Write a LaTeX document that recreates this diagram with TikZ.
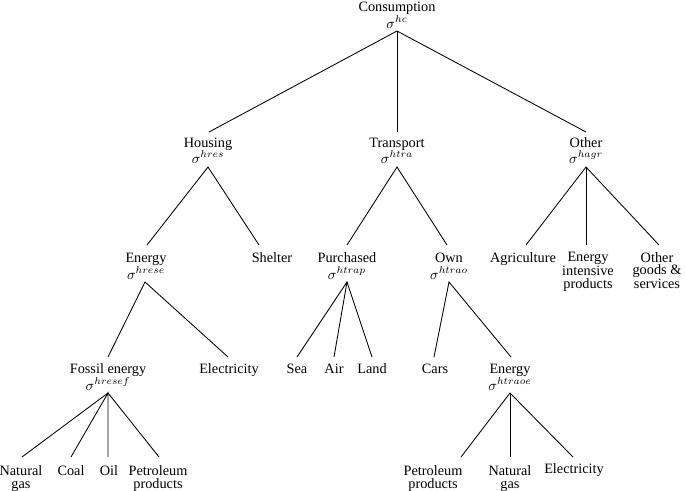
\documentclass[tikz,border=0pt]{standalone}
\usepackage{fontspec}
\setmainfont{Liberation Serif}
\begin{document}
\begin{tikzpicture}[x=0.7pt,y=-0.7pt,
  every node/.style={inner sep=0pt, outer sep=0pt},
  lbl/.style={anchor=base, font=\fontsize{10}{8.6}\selectfont},
  mlbl/.style={anchor=north, align=center, font=\fontsize{10}{8.6}\selectfont},
  sig/.style={anchor=base},
  br/.style={line width=0.6pt}]
\useasboundingbox (0,0) rectangle (685,490);

% Level 0
\node[lbl] (cons) at (397,11) {Consumption};
\node[sig] (scons) at (397,28) {$\sigma^{hc}$};
\coordinate (acons) at (397,31);

% Level 1
\coordinate (ehous) at (209,132);
\node[lbl] (hous) at (208,147) {Housing};
\node[sig] (shous) at (208,163) {$\sigma^{hres}$};
\coordinate (ahous) at (208,167);

\coordinate (etran) at (397,132);
\node[lbl] (tran) at (397,147) {Transport};
\node[sig] (stran) at (397,163) {$\sigma^{htra}$};
\coordinate (atran) at (397,167);

\coordinate (eoth) at (586,132);
\node[lbl] (oth) at (586,147) {Other};
\node[sig] (soth) at (586,163) {$\sigma^{hagr}$};
\coordinate (aoth) at (586,167);

\draw[br] (ehous) -- (acons) -- (eoth);
\draw[br] (acons) -- (etran);

% Level 2
\coordinate (eene) at (147,245);
\node[lbl] (ene) at (146,262) {Energy};
\node[sig] (sene) at (146,279) {$\sigma^{hrese}$};
\coordinate (aene) at (145,282);

\coordinate (eshe) at (259,245);
\node[lbl] (she) at (272,262) {Shelter};

\coordinate (epur) at (347,245);
\node[lbl] (pur) at (347,262) {Purchased};
\node[sig] (spur) at (347,279) {$\sigma^{htrap}$};
\coordinate (apur) at (347,282);

\coordinate (eown) at (447,245);
\node[lbl] (own) at (449,262) {Own};
\node[sig] (sown) at (449,279) {$\sigma^{htrao}$};
\coordinate (aown) at (449,282);

\coordinate (eagr) at (526,245);
\node[lbl] (agr) at (523,262) {Agriculture};

\coordinate (eeip) at (586,245);
\node[mlbl] (eip) at (588,252.5) {Energy\\intensive\\products};

\coordinate (eogs) at (659,245);
\node[mlbl] (ogs) at (657,252.5) {Other\\goods \&\\services};

\draw[br] (eene) -- (ahous) -- (eshe);
\draw[br] (epur) -- (atran) -- (eown);
\draw[br] (eagr) -- (aoth) -- (eogs);
\draw[br] (aoth) -- (eeip);

% Level 3
\coordinate (efos) at (108,357);
\node[lbl] (fos) at (108,373) {Fossil energy};
\node[sig] (sfos) at (108,390) {$\sigma^{hresef}$};
\coordinate (afos) at (108,393);

\coordinate (eel1) at (228,357);
\node[lbl] (el1) at (229,373) {Electricity};

\coordinate (esea) at (297,357);
\node[lbl] (sea) at (297,373) {Sea};
\coordinate (eair) at (334,357);
\node[lbl] (air) at (334,373) {Air};
\coordinate (elan) at (372,357);
\node[lbl] (lan) at (372,373) {Land};

\coordinate (ecar) at (434,357);
\node[lbl] (car) at (435,373) {Cars};

\coordinate (etoe) at (511,357);
\node[lbl] (toe) at (510,373) {Energy};
\node[sig] (stoe) at (510,390) {$\sigma^{htraoe}$};
\coordinate (atoe) at (510,393);

\draw[br] (efos) -- (aene) -- (eel1);
\draw[br] (esea) -- (apur) -- (elan);
\draw[br] (apur) -- (eair);
\draw[br] (ecar) -- (aown) -- (etoe);

% Level 4
\coordinate (eng1) at (22,457);
\node[mlbl] (ng1) at (21,466) {Natural\\gas};
\coordinate (ecoa) at (71,457);
\node[lbl] (coa) at (71,475.5) {Coal};
\coordinate (eoil) at (108,457);
\node[lbl] (oil) at (109,475.5) {Oil};
\coordinate (epp1) at (159,457);
\node[mlbl] (pp1) at (158,466) {Petroleum\\products};

\draw[br] (eng1) -- (afos) -- (epp1);
\draw[br] (ecoa) -- (afos) -- (eoil);

\coordinate (epp2) at (461,457);
\node[mlbl] (pp2) at (433,466) {Petroleum\\products};
\coordinate (eng2) at (510,457);
\node[mlbl] (ng2) at (510,466) {Natural\\gas};
\coordinate (eel2) at (573,457);
\node[lbl] (el2) at (574,473) {Electricity};

\draw[br] (epp2) -- (atoe) -- (eel2);
\draw[br] (atoe) -- (eng2);
\end{tikzpicture}
\end{document}
